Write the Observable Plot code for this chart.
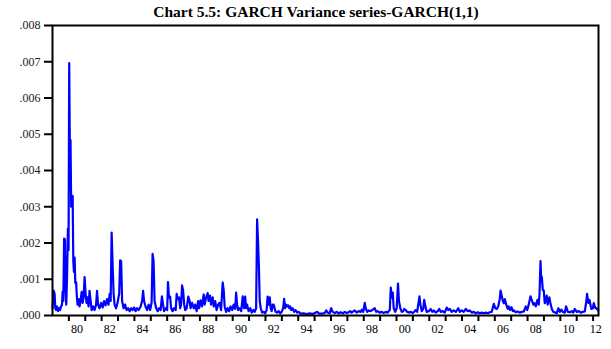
<!DOCTYPE html>
<html>
<head>
<meta charset="utf-8">
<script src="https://cdn.jsdelivr.net/npm/d3@7"></script>
<script src="https://cdn.jsdelivr.net/npm/@observablehq/plot@0.6"></script>
<style>
  html, body { margin: 0; padding: 0; background: #fff; }
  #wrap { position: relative; width: 611px; height: 349px; }
  #title { position: absolute; left: 21px; top: 3px; width: 590px; text-align: center;
           font-family: "Liberation Serif", serif; font-weight: bold; font-size: 15.5px; line-height: 18px; color: #000; }
</style>
</head>
<body>
<div id="wrap"><div id="title"></div></div>
<script>
const titleText = "Chart 5.5: GARCH Variance series-GARCH(1,1)";
const yTicks = [0, 0.001, 0.002, 0.003, 0.004, 0.005, 0.006, 0.007, 0.008];
const xTickYears = d3.range(1980, 2013);
const xLabelYears = [1980, 1982, 1984, 1986, 1988, 1990, 1992, 1994, 1996, 1998, 2000, 2002, 2004, 2006, 2008, 2010, 2012];
const startYear = 1979.0, endYear = 2012.33;

const dates = [
1979.00,1979.07,1979.13,1979.17,1979.22,1979.28,1979.34,1979.40,1979.46,1979.52,1979.58,1979.62,1979.66,1979.71,1979.76,1979.80,1979.84,1979.89,1979.94,1979.98,
1980.02,1980.06,1980.10,1980.14,1980.18,1980.23,1980.27,1980.31,1980.35,1980.39,1980.44,1980.49,1980.53,1980.59,1980.65,1980.71,1980.78,1980.84,1980.90,1980.96,
1981.02,1981.08,1981.14,1981.20,1981.26,1981.33,1981.39,1981.48,1981.57,1981.66,1981.72,1981.78,1981.87,1981.97,
1982.06,1982.15,1982.24,1982.33,1982.42,1982.49,1982.55,1982.61,1982.67,1982.73,1982.79,1982.88,1982.97,
1983.07,1983.13,1983.19,1983.25,1983.34,1983.43,1983.52,1983.62,1983.71,1983.80,1983.89,1983.98,
1984.07,1984.16,1984.26,1984.38,1984.47,1984.53,1984.59,1984.68,1984.78,1984.87,1984.96,
1985.05,1985.11,1985.17,1985.23,1985.33,1985.42,1985.51,1985.60,1985.68,1985.75,1985.81,1985.91,
1986.00,1986.05,1986.11,1986.18,1986.24,1986.33,1986.42,1986.52,1986.58,1986.64,1986.73,1986.79,1986.85,1986.91,1986.97,
1987.04,1987.10,1987.19,1987.29,1987.37,1987.43,1987.52,1987.62,1987.71,1987.80,1987.89,1987.95,
1988.04,1988.13,1988.23,1988.29,1988.38,1988.47,1988.53,1988.62,1988.68,1988.78,1988.84,1988.93,
1989.02,1989.11,1989.20,1989.29,1989.39,1989.45,1989.51,1989.60,1989.69,1989.78,1989.87,1989.97,
1990.06,1990.15,1990.21,1990.27,1990.33,1990.42,1990.52,1990.61,1990.70,1990.76,1990.82,1990.88,1990.97,
1991.07,1991.16,1991.25,1991.34,1991.43,1991.49,1991.55,1991.60,1991.65,1991.71,1991.80,1991.89,1991.98,
1992.07,1992.13,1992.20,1992.26,1992.32,1992.38,1992.44,1992.50,1992.56,1992.62,1992.71,1992.81,1992.90,1992.99,
1993.08,1993.14,1993.20,1993.26,1993.33,1993.39,1993.45,1993.51,1993.57,1993.66,1993.75,1993.84,1993.94,
1994.03,1994.15,1994.33,1994.52,1994.70,1994.88,
1995.07,1995.16,1995.25,1995.43,1995.62,1995.71,1995.80,1995.92,
1996.01,1996.10,1996.23,1996.35,1996.47,1996.59,1996.72,1996.84,1996.96,
1997.08,1997.17,1997.26,1997.45,1997.57,1997.69,1997.81,1997.88,1997.97,
1998.06,1998.12,1998.21,1998.30,1998.42,1998.55,1998.67,1998.76,1998.85,1998.97,
1999.10,1999.22,1999.34,1999.46,1999.59,1999.65,1999.71,1999.77,1999.83,1999.92,
2000.01,2000.09,2000.15,2000.23,2000.32,2000.41,2000.47,2000.56,2000.65,2000.75,2000.87,2000.99,
2001.08,2001.17,2001.26,2001.40,2001.46,2001.54,2001.63,2001.69,2001.75,2001.84,2001.97,
2002.09,2002.18,2002.27,2002.39,2002.52,2002.61,2002.70,2002.82,2002.94,
2003.07,2003.16,2003.25,2003.37,2003.49,2003.62,2003.77,2003.86,2003.98,
2004.10,2004.23,2004.35,2004.47,2004.59,2004.72,2004.84,2004.96,
2005.08,2005.20,2005.33,2005.45,2005.57,2005.69,2005.81,2005.94,
2006.03,2006.12,2006.21,2006.30,2006.35,2006.42,2006.49,2006.55,2006.61,2006.70,2006.79,2006.85,2006.94,
2007.02,2007.10,2007.16,2007.28,2007.40,2007.52,2007.65,2007.77,2007.89,2007.98,
2008.07,2008.18,2008.28,2008.35,2008.42,2008.50,2008.60,2008.68,2008.73,2008.79,2008.82,2008.87,2008.93,2008.99,
2009.05,2009.11,2009.17,2009.23,2009.33,2009.39,2009.48,2009.57,2009.66,2009.78,2009.88,2009.97,
2010.06,2010.15,2010.27,2010.35,2010.46,2010.58,2010.70,2010.79,2010.88,
2011.00,2011.13,2011.25,2011.37,2011.49,2011.59,2011.63,2011.71,2011.78,2011.86,2011.90,2011.98,
2012.04,2012.14,2012.21,2012.31
];

const variance = [
0.0002,0.00069,0.0006,0.0002,0.00015,0.00025,0.00012,0.0002,0.00015,0.00025,0.0003,0.00066,0.0004,0.00212,0.0021,0.0007,0.0003,0.0011,0.0024,0.0018,
0.00696,0.0045,0.00484,0.0030,0.00327,0.0033,0.0015,0.0012,0.0016,0.0009,0.00092,0.0005,0.0003,0.00045,0.00025,0.0004,0.00065,0.00035,0.0005,0.00106,
0.0006,0.00035,0.0005,0.00025,0.00068,0.0004,0.00015,0.00025,0.00015,0.0003,0.00068,0.0003,0.0002,0.00035,
0.00022,0.0004,0.00028,0.00045,0.0003,0.0006,0.0004,0.00229,0.0014,0.0006,0.0003,0.0002,0.00035,
0.0006,0.00152,0.0015,0.0004,0.0002,0.0003,0.00015,0.0002,0.00012,0.0002,0.00015,0.00022,
0.00012,0.0002,0.00015,0.00025,0.0004,0.00068,0.0004,0.00025,0.00015,0.0003,0.00015,
0.00035,0.0017,0.0015,0.0004,0.0002,0.00012,0.0002,0.00015,0.00053,0.0003,0.00012,0.0002,
0.00015,0.00092,0.0005,0.00052,0.0002,0.00012,0.0002,0.00015,0.0006,0.00045,0.0005,0.0002,0.0003,0.00083,0.0007,
0.0003,0.00015,0.0002,0.00052,0.0004,0.0002,0.00035,0.0002,0.0003,0.00012,0.0004,0.0002,
0.00042,0.00025,0.00058,0.0003,0.0005,0.00062,0.0004,0.00055,0.0003,0.0005,0.00025,0.0004,
0.00015,0.0003,0.00035,0.00015,0.00091,0.0007,0.00025,0.0001,0.0002,0.00012,0.00025,0.00015,
0.0003,0.00018,0.00063,0.0003,0.00015,0.0002,0.00012,0.00053,0.0002,0.00052,0.0002,0.0003,0.00012,
0.0002,0.00008,0.00015,0.0001,0.0002,0.00265,0.002,0.00134,0.0004,0.0002,0.00008,0.0001,0.00006,
0.00015,0.00052,0.0003,0.0005,0.0002,0.00012,0.0003,0.0003,0.0002,0.0001,0.00008,0.00012,0.00006,0.0001,
0.0002,0.00046,0.0002,0.0003,0.00025,0.00028,0.0002,0.00025,0.00015,0.0002,0.0001,0.00015,0.00008,
0.0001,0.00005,0.00006,0.00004,0.00006,0.00004,
0.00008,0.0001,0.00006,0.00005,0.00007,0.00014,0.00008,0.00006,
0.0002,0.0001,0.00007,0.0001,0.00006,0.00009,0.00006,0.0001,0.00007,
0.00009,0.00012,0.00008,0.00014,0.00008,0.00012,0.0001,0.00016,0.0001,
0.00035,0.0002,0.0001,0.00014,0.00012,0.00016,0.0002,0.0001,0.00012,0.00008,
0.0001,0.00007,0.0001,0.00008,0.00015,0.00077,0.0005,0.00063,0.0002,0.0001,
0.0002,0.00088,0.0004,0.0002,0.0001,0.00012,0.00018,0.00015,0.0001,0.00008,0.0001,0.00007,
0.0001,0.00015,0.0001,0.00053,0.0003,0.00012,0.00018,0.00043,0.00028,0.0001,0.00012,
0.00018,0.0001,0.00014,0.00008,0.00012,0.00018,0.0001,0.00012,0.00008,
0.00022,0.00015,0.00018,0.0001,0.00014,0.0001,0.0002,0.0001,0.00014,
0.0001,0.00018,0.00012,0.00014,0.00008,0.0001,0.00006,0.00009,
0.00006,0.00008,0.00006,0.00008,0.00006,0.00009,0.0001,0.00032,
0.0002,0.00018,0.00025,0.00045,0.00069,0.00055,0.0004,0.00034,0.00045,0.0003,0.00018,0.00025,0.00015,
0.00023,0.00012,0.00014,0.00009,0.00011,0.00008,0.0001,0.00011,0.00025,0.00015,
0.0003,0.00053,0.0004,0.0003,0.00034,0.00025,0.00043,0.0003,0.0006,0.0015,0.0011,0.00106,0.0007,0.00069,
0.00034,0.0004,0.00055,0.0003,0.0005,0.00035,0.00018,0.0001,0.00009,0.00006,0.0002,0.0001,
0.00016,0.0001,0.00008,0.00025,0.0001,0.00009,0.00012,0.00008,0.00018,
0.0001,0.00012,0.00008,0.0001,0.00011,0.0004,0.0006,0.00035,0.00043,0.00025,0.00018,0.0002,
0.00034,0.0002,0.0002,0.00014
];

const series = dates.map((t, i) => ({t, v: variance[i]}));
const labelPos = xLabelYears.map(y => (y + Math.min(y + 1, endYear)) / 2);

const chart = Plot.plot({
  width: 611,
  height: 349,
  marginLeft: 52,
  marginRight: 13,
  marginTop: 25,
  marginBottom: 34,
  style: {fontFamily: "'Liberation Serif', serif", fontSize: "12px", color: "#000", background: "#fff"},
  x: {domain: [startYear, endYear], axis: null},
  y: {domain: [0, 0.008], axis: null},
  marks: [
    Plot.line(series, {x: "t", y: "v", stroke: "#0000ff", strokeWidth: 2.2}),
    Plot.axisY({ticks: yTicks, label: null, tickSize: 8, tickPadding: 4, strokeWidth: 2, stroke: "#000",
      tickFormat: d => d3.format(".3f")(d).replace(/^0/, ""), fill: "#222"}),
    Plot.axisX({ticks: xTickYears, label: null, tickSize: 6, strokeWidth: 2, stroke: "#000", tickFormat: () => ""}),
    Plot.axisX({ticks: labelPos, label: null, tickSize: 0, tickPadding: 9, fill: "#000",
      tickFormat: d => String(Math.floor(d) % 100).padStart(2, "0")}),
    Plot.frame({stroke: "#000", strokeWidth: 2})
  ]
});
document.getElementById("wrap").appendChild(chart);
document.getElementById("title").textContent = titleText;
</script>
</body>
</html>
